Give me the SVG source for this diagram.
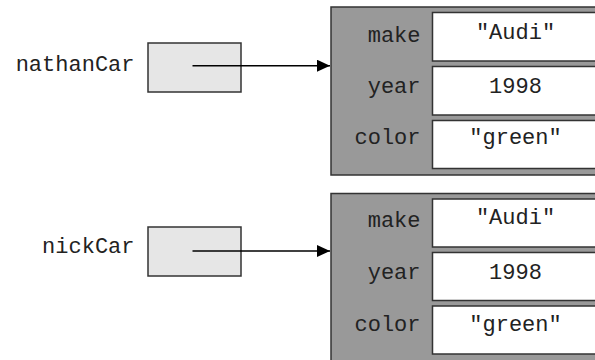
<svg xmlns="http://www.w3.org/2000/svg" width="595" height="360" viewBox="0 0 595 360">
<style>
text{font-family:"Courier New","Nimbus Mono PS","FreeMono","Liberation Mono",monospace;font-size:22px;fill:#222}
.var{text-anchor:end}
.lbl{text-anchor:end}
.val{text-anchor:middle}
.ref{fill:#e6e6e6;stroke:#333;stroke-width:1.5}
.obj{fill:#999999;stroke:#333;stroke-width:1.5}
.cell{fill:#ffffff;stroke:#333;stroke-width:1.5}
.conn{stroke:#000;stroke-width:1.5;fill:none}
</style>
<defs>
<marker id="ah" markerWidth="13" markerHeight="12" refX="13" refY="6" orient="auto" markerUnits="userSpaceOnUse">
<polygon points="0,0 13,6 0,12" fill="#000"/>
</marker>
</defs>
<rect width="595" height="360" fill="#fff"/>
<g id="nathanCar">
<text class="var" x="134.5" y="71">nathanCar</text>
<rect class="ref" x="148" y="43" width="93" height="49"/>
</g>
<g id="nickCar">
<text class="var" x="134.5" y="252.5">nickCar</text>
<rect class="ref" x="148" y="227" width="93" height="49"/>
</g>
<g id="car1">
<rect class="obj" x="331" y="7" width="275" height="168"/>
<rect class="cell" x="432.5" y="12.5" width="167" height="48.5"/>
<rect class="cell" x="432.5" y="66.5" width="167" height="48.5"/>
<rect class="cell" x="432.5" y="120.5" width="167" height="48"/>
<text class="lbl" x="420.5" y="42">make</text>
<text class="lbl" x="420.5" y="92.5">year</text>
<text class="lbl" x="420.5" y="144">color</text>
<text class="val" x="515.5" y="39.3">"Audi"</text>
<text class="val" x="515.5" y="93.3">1998</text>
<text class="val" x="515.5" y="144">"green"</text>
</g>
<g id="car2">
<rect class="obj" x="331" y="193.5" width="275" height="175"/>
<rect class="cell" x="432.5" y="199" width="167" height="48"/>
<rect class="cell" x="432.5" y="252.5" width="167" height="48"/>
<rect class="cell" x="432.5" y="306" width="167" height="48"/>
<text class="lbl" x="420.5" y="227">make</text>
<text class="lbl" x="420.5" y="278.5">year</text>
<text class="lbl" x="420.5" y="330.5">color</text>
<text class="val" x="515.5" y="224">"Audi"</text>
<text class="val" x="515.5" y="279.3">1998</text>
<text class="val" x="515.5" y="330.5">"green"</text>
</g>
<g id="connectors">
<line class="conn" x1="192.5" y1="65.7" x2="330" y2="65.7" marker-end="url(#ah)"/>
<line class="conn" x1="192.5" y1="251" x2="330" y2="251" marker-end="url(#ah)"/>
</g>
</svg>
